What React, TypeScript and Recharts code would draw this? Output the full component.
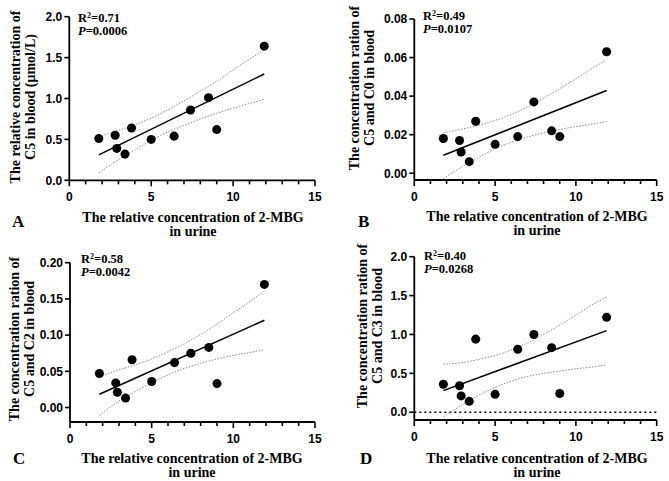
import React from 'react';
import { ScatterChart, Scatter, XAxis, YAxis, ReferenceLine } from 'recharts';

// 2-MBG in urine, shared by all four panels
const URINE_2MBG = [1.8, 2.8, 2.9, 3.4, 3.8, 5.0, 6.4, 7.4, 8.5, 9.0, 11.9];

const C5_BLOOD = [0.51, 0.55, 0.39, 0.32, 0.64, 0.5, 0.54, 0.86, 1.01, 0.62, 1.64];
const C5_C0 = [0.018, 0.017, 0.011, 0.006, 0.027, 0.015, 0.019, 0.037, 0.022, 0.019, 0.063];
const C5_C2 = [0.047, 0.034, 0.021, 0.013, 0.066, 0.036, 0.062, 0.075, 0.083, 0.033, 0.17];
const C5_C3 = [0.36, 0.34, 0.21, 0.14, 0.94, 0.23, 0.81, 1.0, 0.83, 0.24, 1.22];

// regression line ends
const FIT_X = [1.8, 11.9];
const FIT_A = [0.31, 1.3];
const FIT_B = [0.0093, 0.0429];
const FIT_C = [0.0184, 0.1205];
const FIT_D = [0.278, 1.049];

// 95% band (dotted curves), read at these x values
const BAND_X = [1.8, 3, 4, 5, 6, 7, 8, 9, 10, 11, 11.9];
const BAND_A_UP = [0.53, 0.61, 0.68, 0.76, 0.86, 0.97, 1.09, 1.21, 1.35, 1.48, 1.6];
const BAND_A_LO = [0.09, 0.25, 0.37, 0.49, 0.59, 0.67, 0.75, 0.82, 0.88, 0.94, 0.99];
const BAND_B_UP = [0.0211, 0.023, 0.0249, 0.0274, 0.0305, 0.0344, 0.0389, 0.0439, 0.049, 0.0543, 0.0588];
const BAND_B_LO = [-0.0028, 0.0036, 0.0083, 0.0126, 0.0161, 0.0188, 0.0209, 0.0227, 0.0242, 0.0255, 0.0268];
const BAND_C_UP = [0.042, 0.052, 0.059, 0.067, 0.077, 0.088, 0.101, 0.115, 0.131, 0.146, 0.161];
const BAND_C_LO = [-0.011, 0.009, 0.022, 0.034, 0.045, 0.054, 0.061, 0.067, 0.072, 0.076, 0.08];
const BAND_D_UP = [0.62, 0.64, 0.68, 0.73, 0.8, 0.89, 1.0, 1.12, 1.25, 1.38, 1.48];
const BAND_D_LO = [-0.06, 0.1, 0.22, 0.32, 0.4, 0.46, 0.5, 0.53, 0.56, 0.58, 0.61];

const X_TICKS = [0, 1, 2, 3, 4, 5, 6, 7, 8, 9, 10, 11, 12, 13, 14, 15];
const Y_TICKS_A = [0, 0.5, 1, 1.5, 2];
const Y_TICKS_B = [0, 0.02, 0.04, 0.06, 0.08];
const Y_TICKS_C = [0, 0.05, 0.1, 0.15, 0.2];
const Y_TICKS_D = [0, 0.5, 1, 1.5, 2];

const X_TITLE = ['The relative concentration of 2-MBG', 'in urine'];

const TICK_FONT = '"Liberation Sans", Arial, sans-serif';
const SERIF = '"Liberation Serif", "Times New Roman", serif';
const Y_AXIS_W = 40;
const X_AXIS_H = 30;

const pairs = (xs: number[], ys: number[]) => xs.map((x, i) => ({ x, y: ys[i] }));
const noDot = () => <g />;

function XTick({ x, y, payload }: any) {
  const major = payload.value % 5 === 0;
  return (
    <g>
      <line x1={x} x2={x} y1={y} y2={y + (major ? 6 : 4)} stroke="#000" strokeWidth={1.6} />
      {major && (
        <text x={x} y={y + 21} textAnchor="middle" fontFamily={TICK_FONT} fontWeight="bold" fontSize={12} fill="#000">
          {payload.value}
        </text>
      )}
    </g>
  );
}

type PanelProps = {
  left: number;
  top: number;
  width: number;
  height: number;
  margin: { top: number; right: number; bottom: number; left: number };
  values: number[];
  fit: number[];
  bandUp: number[];
  bandLo: number[];
  domain: [number, number];
  yTicks: number[];
  digits: number;
  zeroLine?: boolean;
};

function Panel(p: PanelProps) {
  // margins are given to the plot area edge; axes eat into them
  const margin = {
    top: p.margin.top,
    right: p.margin.right,
    left: p.margin.left - Y_AXIS_W,
    bottom: p.margin.bottom - X_AXIS_H,
  };
  return (
    <div style={{ position: 'absolute', left: p.left, top: p.top }}>
      <ScatterChart width={p.width} height={p.height} margin={margin}>
        <XAxis
          type="number"
          dataKey="x"
          domain={[0, 15]}
          ticks={X_TICKS}
          height={X_AXIS_H}
          tickSize={0}
          tickMargin={0}
          tick={<XTick />}
          axisLine={{ stroke: '#000', strokeWidth: 1.8 }}
          interval={0}
        />
        <YAxis
          type="number"
          dataKey="y"
          domain={p.domain}
          ticks={p.yTicks}
          width={Y_AXIS_W}
          tickSize={5}
          tickMargin={2}
          interval={0}
          tickFormatter={(v: number) => v.toFixed(p.digits)}
          tick={{ fill: '#000', fontFamily: TICK_FONT, fontWeight: 'bold', fontSize: 12 }}
          tickLine={{ stroke: '#000', strokeWidth: 1.6 }}
          axisLine={{ stroke: '#000', strokeWidth: 1.8 }}
          allowDataOverflow
        />
        {p.zeroLine && <ReferenceLine y={0} stroke="#000" strokeWidth={1.6} strokeDasharray="2 3" />}
        <Scatter
          data={pairs(BAND_X, p.bandUp)}
          line={{ stroke: '#8c8c8c', strokeWidth: 1, strokeDasharray: '1.5 1.5' }}
          lineJointType="monotoneX"
          shape={noDot}
          isAnimationActive={false}
        />
        <Scatter
          data={pairs(BAND_X, p.bandLo)}
          line={{ stroke: '#8c8c8c', strokeWidth: 1, strokeDasharray: '1.5 1.5' }}
          lineJointType="monotoneX"
          shape={noDot}
          isAnimationActive={false}
        />
        <Scatter
          data={pairs(FIT_X, p.fit)}
          line={{ stroke: '#000', strokeWidth: 1.5 }}
          shape={noDot}
          isAnimationActive={false}
        />
        <Scatter data={pairs(URINE_2MBG, p.values)} fill="#000" isAnimationActive={false} />
      </ScatterChart>
    </div>
  );
}

function Text({ x, y, size, children, style }: any) {
  return (
    <div
      style={{
        position: 'absolute',
        left: x,
        top: y,
        fontFamily: SERIF,
        fontWeight: 'bold',
        fontSize: size,
        whiteSpace: 'nowrap',
        lineHeight: 1,
        color: '#000',
        ...style,
      }}
    >
      {children}
    </div>
  );
}

function YTitle({ cx, cy, lines }: { cx: number; cy: number; lines: string[] }) {
  return (
    <Text
      x={cx}
      y={cy}
      size={14}
      style={{ transform: 'translate(-50%, -50%) rotate(-90deg)', textAlign: 'center', lineHeight: '15px' }}
    >
      {lines.map((l) => (
        <div key={l}>{l}</div>
      ))}
    </Text>
  );
}

function XTitle({ cx, top }: { cx: number; top: number }) {
  return (
    <Text x={cx} y={top} size={14} style={{ transform: 'translateX(-50%)', textAlign: 'center', lineHeight: '14px' }}>
      {X_TITLE.map((l) => (
        <div key={l}>{l}</div>
      ))}
    </Text>
  );
}

function Stats({ x, y, r2, p }: { x: number; y: number; r2: string; p: string }) {
  return (
    <Text x={x} y={y} size={12.5} style={{ lineHeight: '13px' }}>
      <div>
        R<sup style={{ fontSize: 8, verticalAlign: 'top', lineHeight: 1 }}>2</sup>={r2}
      </div>
      <div>
        <i>P</i>={p}
      </div>
    </Text>
  );
}

export default function App() {
  return (
    <div style={{ position: 'absolute', left: 0, top: 0, width: 669, height: 481, background: '#fff', overflow: 'hidden' }}>
      <Panel
        left={0}
        top={0}
        width={335}
        height={240}
        margin={{ top: 16.7, right: 20, bottom: 59.7, left: 69.3 }}
        values={C5_BLOOD}
        fit={FIT_A}
        bandUp={BAND_A_UP}
        bandLo={BAND_A_LO}
        domain={[0, 2]}
        yTicks={Y_TICKS_A}
        digits={1}
      />
      <Panel
        left={335}
        top={0}
        width={334}
        height={240}
        margin={{ top: 19, right: 12.3, bottom: 60, left: 79.3 }}
        values={C5_C0}
        fit={FIT_B}
        bandUp={BAND_B_UP}
        bandLo={BAND_B_LO}
        domain={[-0.0035, 0.08]}
        yTicks={Y_TICKS_B}
        digits={2}
      />
      <Panel
        left={0}
        top={240}
        width={335}
        height={241}
        margin={{ top: 22.7, right: 20, bottom: 59, left: 70 }}
        values={C5_C2}
        fit={FIT_C}
        bandUp={BAND_C_UP}
        bandLo={BAND_C_LO}
        domain={[-0.02, 0.2]}
        yTicks={Y_TICKS_C}
        digits={2}
      />
      <Panel
        left={335}
        top={240}
        width={334}
        height={241}
        margin={{ top: 16.7, right: 12.3, bottom: 61, left: 79.3 }}
        values={C5_C3}
        fit={FIT_D}
        bandUp={BAND_D_UP}
        bandLo={BAND_D_LO}
        domain={[-0.1, 2]}
        yTicks={Y_TICKS_D}
        digits={1}
        zeroLine
      />

      <YTitle cx={23} cy={97} lines={['The relative concentration of', 'C5 in blood (μmol/L)']} />
      <YTitle cx={362} cy={88} lines={['The concentration ration of', 'C5 and C0 in blood']} />
      <YTitle cx={21.5} cy={339} lines={['The concentration ration of', 'C5 and C2 in blood']} />
      <YTitle cx={369.5} cy={326} lines={['The concentration ration of', 'C5 and C3 in blood']} />

      <XTitle cx={193} top={211} />
      <XTitle cx={537} top={210} />
      <XTitle cx={192} top={452} />
      <XTitle cx={537} top={452} />

      <Text x={12} y={213} size={17}>A</Text>
      <Text x={358} y={213} size={17}>B</Text>
      <Text x={13} y={450} size={17}>C</Text>
      <Text x={360} y={450} size={17}>D</Text>

      <Stats x={78} y={12} r2="0.71" p="0.0006" />
      <Stats x={423} y={10} r2="0.49" p="0.0107" />
      <Stats x={81} y={253} r2="0.58" p="0.0042" />
      <Stats x={424} y={250} r2="0.40" p="0.0268" />
    </div>
  );
}
